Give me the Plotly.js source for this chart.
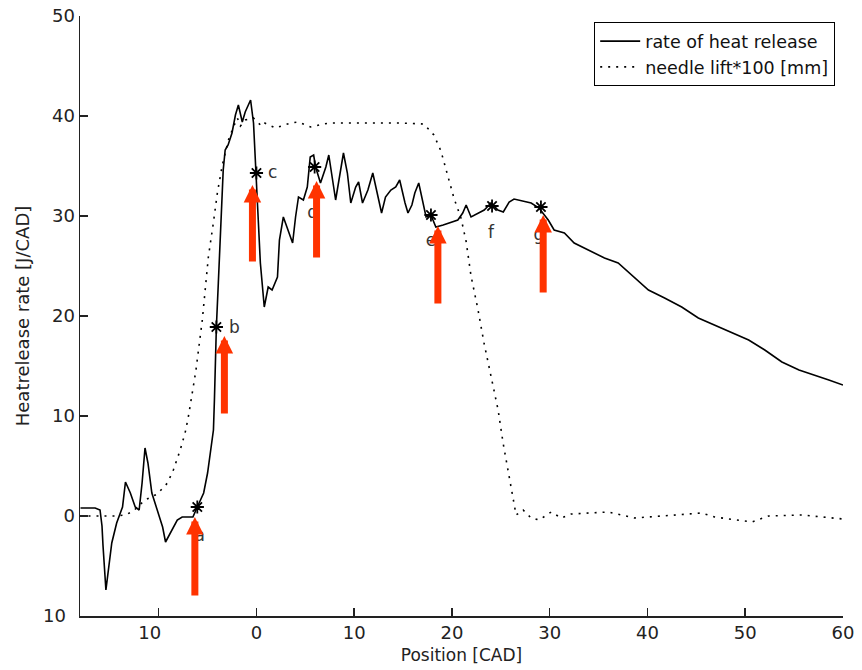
<!DOCTYPE html>
<html>
<head>
<meta charset="utf-8">
<script src="https://cdn.plot.ly/plotly-3.0.1.min.js"></script>
<style>html,body{margin:0;padding:0;background:#fff;}#chart{width:862px;height:670px;}</style>
</head>
<body>
<div id="chart"></div>
<script>
// rate of heat release [J/CAD] vs position [CAD]
const hrX = [-18,-16.5,-16.0,-15.8,-15.7,-15.4,-14.8,-14.3,-13.7,-13.4,-12.9,-12.4,-12.0,-11.7,-11.4,-11.1,-10.7,-10.05,-9.6,-9.3,-8.8,-8.1,-7.6,-6.5,-6.05,-5.4,-5.0,-4.7,-4.4,-4.3,-4.1,-3.9,-3.7,-3.5,-3.4,-3.2,-2.9,-2.5,-2.15,-1.85,-1.45,-1.15,-0.6,-0.3,-0.1,0.2,0.4,0.6,0.8,1.2,1.6,2.15,2.35,2.75,3.2,3.7,4.0,4.3,4.8,5.2,5.5,5.85,6.05,6.35,6.55,7.1,7.4,8.1,8.5,8.9,9.3,9.65,10.15,10.45,10.85,11.4,11.9,12.3,12.8,13.2,13.75,14.25,14.65,15.2,15.5,15.9,16.2,16.6,17.0,17.35,17.85,18.35,19.1,19.7,20.6,21.1,21.45,21.95,22.65,23.3,24.0,24.7,25.25,25.85,26.35,27.4,28.1,28.9,29.85,30.45,31.5,32.5,33.95,35.6,37.0,38.35,40.1,41.75,43.5,45.2,46.9,48.6,50.35,52.0,53.75,55.5,57.1,58.55,60];
const hrY = [0.8,0.8,0.6,-1.0,-2.9,-7.4,-2.7,-0.7,0.9,3.4,2.3,0.9,0.6,3.3,6.8,5.3,2.3,0.4,-1.1,-2.6,-1.7,-0.4,-0.1,-0.1,0.9,2.3,4.3,6.6,8.6,11.6,18.9,23.3,27.9,31.9,34.6,36.6,37.1,38.3,40.1,41.1,39.4,40.4,41.6,39.3,34.6,29.3,25.3,22.6,20.9,22.9,22.6,23.9,27.6,29.9,28.6,27.3,29.9,31.9,31.6,32.9,35.9,36.1,34.9,33.9,33.3,34.9,36.1,31.6,33.9,36.3,34.3,31.3,32.9,33.4,31.3,32.6,34.3,32.6,30.3,31.9,32.6,32.9,33.6,31.3,30.3,31.1,32.3,33.3,31.3,29.9,30.1,28.9,29.1,29.3,29.6,30.3,31.1,29.9,30.3,30.6,31.3,30.6,30.4,31.4,31.7,31.5,31.3,30.8,29.6,28.6,28.3,27.3,26.6,25.8,25.3,24.1,22.6,21.8,20.9,19.8,19.1,18.4,17.6,16.6,15.4,14.6,14.1,13.6,13.1];

// needle lift * 100 [mm]
const nlX = [-18,-14.5,-13.4,-12.6,-11.4,-10.15,-9.1,-8.5,-7.8,-7.3,-6.97,-6.2,-5.54,-5.23,-4.92,-4.41,-4.0,-3.49,-2.87,-2.36,-1.95,-1.64,-1.13,-0.31,0.41,0.62,1.95,3.49,4.31,5.54,6.26,6.87,7.59,9.64,12.72,14.77,17.13,18.15,18.87,19.59,20.2,20.92,21.44,21.95,22.67,23.28,24.0,24.72,25.23,25.74,26.26,26.56,27.28,28.1,28.92,30.15,31.18,32.2,36.0,38.67,44.2,45.54,46.87,50.67,52.4,55.8,60];
const nlY = [0,0,0.1,0.5,1.6,2.2,3.3,4.6,6.6,8.3,9.9,14.5,19.6,22.6,25.9,29.3,32.3,35.1,37.6,38.9,39.8,39.0,39.6,39.8,39.1,39.4,38.8,39.3,39.4,38.9,39.1,39.2,39.3,39.3,39.3,39.3,39.2,38.1,36.5,34.0,31.8,29.8,27.5,24.0,20.6,17.3,13.9,10.6,7.3,4.6,2.0,0.1,0.6,-0.2,-0.4,0.4,-0.2,0.2,0.4,-0.2,0.2,0.3,-0.1,-0.6,0,0.1,-0.3];

// marked points a..g
const ptLabels = ["a","b","c","d","e","f","g"];
const ptX = [-6.05,-4.1,0.0,5.95,17.85,24.1,29.1];
const ptY = [0.9,18.9,34.3,34.9,30.1,31.0,30.9];
const lblX = [-5.8,-2.25,1.65,5.75,17.85,24.0,28.9];
const lblY = [-2.1,18.7,34.2,30.2,27.4,28.2,28.0];

// red arrows: x, tip y, tail y
const arrX = [-6.3,-3.28,-0.41,6.15,18.56,29.33];
const arrTip = [-0.1,18.0,33.1,33.5,29.0,30.1];
const arrTail = [-8.1,10.1,25.3,25.7,21.1,22.2];

// ticks (minus signs are not visible in the original)
const xTickVals = [-10,0,10,20,30,40,50,60];
const xTickText = ["10\u2002\u2002","0","10","20","30","40","50","60"];
const yTickVals = [-10,0,10,20,30,40,50];
const yTickText = ["10\u2002","0","10","20","30","40","50"];

const FONT = "DejaVu Sans, Arial, sans-serif";

const traces = [
  {x: hrX, y: hrY, type: "scatter", mode: "lines", name: "rate of heat release",
   line: {color: "#000", width: 1.6}},
  {x: nlX, y: nlY, type: "scatter", mode: "lines", name: "needle lift*100 [mm]",
   line: {color: "#000", width: 1.6, dash: "2px,6px"}},
  {x: ptX, y: ptY, type: "scatter", mode: "markers", showlegend: false,
   marker: {symbol: "asterisk-open", size: 11, color: "#000", line: {color: "#000", width: 1.8}}},
  {x: lblX, y: lblY, type: "scatter", mode: "text", text: ptLabels, showlegend: false,
   textfont: {family: FONT, size: 17, color: "#333"}, textposition: "middle center"}
];

const annotations = arrX.map((x, i) => ({
  x: x, y: arrTip[i], ax: x, ay: arrTail[i], axref: "x", ayref: "y", xref: "x", yref: "y",
  text: "", showarrow: true, arrowhead: 2, arrowsize: 0.5, arrowwidth: 7, arrowcolor: "#ff3300"
}));

const layout = {
  width: 862, height: 670,
  margin: {l: 80, r: 19, t: 16, b: 54},
  paper_bgcolor: "#fff", plot_bgcolor: "#fff",
  font: {family: FONT, size: 17, color: "#222"},
  showlegend: true,
  legend: {x: 0.9895, y: 0.99, xanchor: "right", yanchor: "top",
    bordercolor: "#000", borderwidth: 1.2, bgcolor: "#fff",
    font: {family: FONT, size: 17.5, color: "#111"}, tracegroupgap: 0, itemwidth: 40},
  xaxis: {range: [-18.05, 60], tickvals: xTickVals, ticktext: xTickText,
    ticks: "inside", ticklen: 8, tickwidth: 1.5, tickcolor: "#222",
    showline: true, linecolor: "#222", linewidth: 1.5, showgrid: false, zeroline: false,
    tickfont: {family: FONT, size: 18, color: "#222"},
    title: {text: "Position [CAD]", font: {family: FONT, size: 17, color: "#222"}, standoff: 7}},
  yaxis: {range: [-10, 50], tickvals: yTickVals, ticktext: yTickText,
    ticks: "inside", ticklen: 8, tickwidth: 1.5, tickcolor: "#222",
    showline: true, linecolor: "#222", linewidth: 1.5, showgrid: false, zeroline: false,
    tickfont: {family: FONT, size: 18, color: "#222"},
    title: {text: "Heatrelease rate [J/CAD]", font: {family: FONT, size: 18, color: "#222"}, standoff: 8}},
  annotations: annotations
};

Plotly.newPlot("chart", traces, layout, {staticPlot: true, displayModeBar: false});
</script>
</body>
</html>
